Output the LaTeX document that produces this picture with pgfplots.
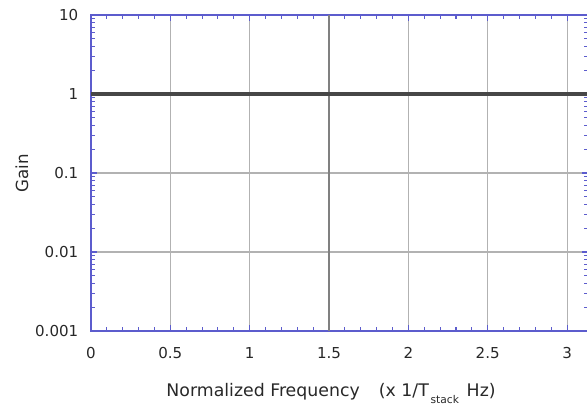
\documentclass[border=0pt]{standalone}
\usepackage{pgfplots}
\pgfplotsset{compat=1.18}
\usepackage{fontspec}
\setmainfont{DejaVu Sans}
\definecolor{axblue}{RGB}{92,92,205}
\definecolor{gridgray}{RGB}{178,178,178}
\definecolor{txt}{RGB}{40,40,40}
\begin{document}
\begin{tikzpicture}
\clip (0pt,0pt) rectangle (440.25pt,308.25pt);
\begin{axis}[
  scale only axis,
  width=372.75pt, height=237pt,
  at={(68.25pt,60pt)}, anchor=south west,
  xmin=0, xmax=3.132,
  ymode=log, ymin=0.001, ymax=10,
  xtick={0,0.5,1,1.5,2,2.5,3},
  xticklabels={0,0.5,1,1.5,2,2.5,3},
  minor x tick num=4,
  ytick={0.001,0.01,0.1,1,10},
  yticklabels={0.001,0.01,0.1,1,10},
  tick align=inside,
  major tick length=4.5pt, minor tick length=3pt,
  grid=major,
  major grid style={gridgray, line width=0.8pt},
  axis line style={axblue, line width=1pt},
  every tick/.style={axblue, line width=0.8pt},
  tick label style={font=\fontsize{11.3}{13}\selectfont, text=txt},
  xticklabel shift=8.5pt, yticklabel shift=6pt,
  xlabel={Normalized Frequency\hspace{1.1em}(x 1/T\hspace{0.1em}\raisebox{-0.8ex}{\fontsize{8}{9}\selectfont stack}\hspace{0.45em}Hz)},
  ylabel={Gain},
  xlabel style={font=\fontsize{13}{15}\selectfont, text=txt,
    at={(axis description cs:0.483,-0.2057)}, anchor=base},
  ylabel style={font=\fontsize{12.5}{15}\selectfont, text=txt,
    at={(axis description cs:-0.139,0.5)}, anchor=center},
  clip=false,
]
% emphasised grid line at 1.5
\addplot[black!50, line width=1.3pt] coordinates {(1.5,0.001) (1.5,10)};
% unit gain response
\addplot[black!72, line width=2.3pt] coordinates {(0,1) (3.132,1)};
\end{axis}
\end{tikzpicture}
\end{document}
